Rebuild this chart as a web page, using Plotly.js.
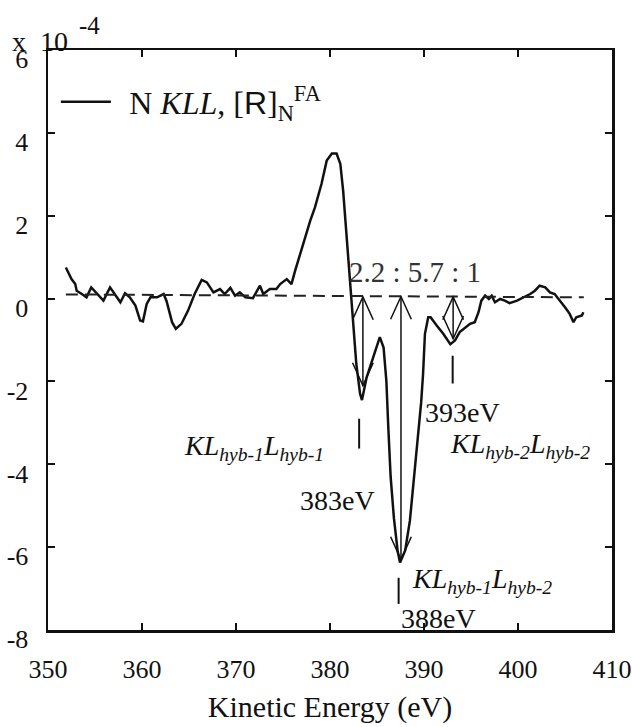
<!DOCTYPE html>
<html><head><meta charset="utf-8">
<script src="https://cdn.plot.ly/plotly-3.0.1.min.js"></script>
<style>html,body{margin:0;padding:0;background:#fff}</style>
</head><body>
<div id="chart" style="width:632px;height:727px"></div>
<script>
// Kinetic energy (eV) and N KLL signal (x10^-4)
const energy = [351.9,352.5,352.9,353.05,353.6,354.1,354.6,355.2,355.9,356.6,357.3,357.7,358.2,358.7,359.3,359.8,360.1,360.5,360.9,361.6,362.3,362.6,363.2,363.6,364.2,364.9,365.6,366.35,366.9,367.6,368.3,368.8,369.4,369.9,370.4,371.0,371.8,372.55,372.9,373.6,374.3,374.7,375.4,375.9,376.3,376.8,377.3,377.9,378.4,379.1,379.65,380.2,380.7,381.1,381.4,381.7,381.95,382.2,382.5,382.8,383.2,383.4,383.9,384.6,385.3,385.7,386.0,386.2,386.45,386.8,387.2,387.45,388.0,388.5,388.9,389.4,389.7,389.9,390.1,390.45,390.7,391.35,392.05,392.8,393.1,393.3,393.8,394.4,394.9,395.4,395.8,396.1,396.5,396.9,397.2,397.55,398.1,398.6,399.1,399.9,400.6,401.3,401.8,402.3,402.9,403.4,403.9,404.5,405.0,405.5,405.9,406.2,406.8,406.95];
const signal = [0.75,0.47,0.35,0.19,0.11,0.03,0.27,0.11,-0.05,0.27,0.03,-0.09,0.13,0.03,-0.17,-0.53,-0.55,-0.13,0.03,0.03,0.11,-0.05,-0.57,-0.73,-0.61,-0.29,0.11,0.45,0.39,0.15,0.23,0.11,0.26,0.07,0.15,0.03,0.01,0.31,0.11,0.23,0.23,0.35,0.47,0.35,0.68,1.05,1.48,1.88,2.2,2.77,3.33,3.5,3.5,3.25,2.6,1.72,0.92,0.03,-0.7,-1.58,-2.3,-2.45,-1.9,-1.42,-0.93,-1.18,-2.0,-3.1,-4.3,-5.3,-6.1,-6.37,-6.08,-5.36,-4.4,-3.19,-2.5,-1.82,-0.85,-0.45,-0.45,-0.65,-0.85,-1.1,-1.05,-1.01,-0.81,-0.69,-0.61,-0.57,-0.33,-0.05,0.07,-0.01,0.07,-0.09,-0.01,-0.05,-0.11,-0.05,0.03,0.11,0.19,0.31,0.27,0.15,0.11,-0.05,-0.21,-0.37,-0.57,-0.45,-0.41,-0.33];
const baselineX = [351.9, 407.0];
const baselineY = [0.1, 0.03];
// double arrows from baseline to the three minima
const peakEnergy = [383.5, 387.55, 393.1];
const arrowTop = [0.04, 0.05, 0.04];
const peakDepth = [-2.1, -6.3, -0.97];
// short marker bars below each minimum
const markerEnergy = [383.1, 387.3, 393.05];
const markerTop = [-2.9, -6.74, -1.38];
const markerBottom = [-3.62, -7.37, -2.05];
const xTicks = [350,360,370,380,390,400,410];
const xTickText = ['350','360','370','380','390','400','410'];
const yTicks = [-8,-6,-4,-2,0,2,4,6];
const yTickText = ['-8','-6','-4','-2','0','2','4','6'];
const ratioText = '2.2 : 5.7 : 1';
const seriesName = "\u00a0\u2006N <i>KLL</i>, [<span style=\"font-family:'Liberation Sans'\">R</span>]<sub>N</sub><sup>FA</sup>";

const SERIF = "'Liberation Serif', 'Times New Roman', serif";
const headW = 1.1, headH = 0.55;

const shapes = [];
for (let i = 0; i < peakEnergy.length; i++) {
  const x = peakEnergy[i], t = arrowTop[i], b = peakDepth[i];
  shapes.push({type:'line', xref:'x', yref:'y', x0:x, x1:x, y0:t, y1:b, line:{color:'#111', width:1.5}});
  shapes.push({type:'path', xref:'x', yref:'y', path:`M ${x-headW},${t-headH} L ${x},${t} L ${x+headW},${t-headH}`, line:{color:'#111', width:1.5}});
  shapes.push({type:'path', xref:'x', yref:'y', path:`M ${x-headW},${b+headH} L ${x},${b} L ${x+headW},${b+headH}`, line:{color:'#111', width:1.5}});
}
for (let i = 0; i < markerEnergy.length; i++) {
  shapes.push({type:'line', xref:'x', yref:'y', x0:markerEnergy[i], x1:markerEnergy[i], y0:markerTop[i], y1:markerBottom[i], line:{color:'#111', width:2}});
}

const annFont = {family: SERIF, size: 28, color: '#111'};
const annotations = [
  {x: 389.0, y: 0.63, xref:'x', yref:'y', text: ratioText, showarrow:false, font:{family:SERIF, size:29, color:'#333'}, xanchor:'center', yanchor:'middle'},
  {x: 364.3, y: -3.6, xref:'x', yref:'y', text: '<i>KL<sub>hyb-1</sub>L<sub>hyb-1</sub></i>', showarrow:false, font:annFont, xanchor:'left', yanchor:'middle'},
  {x: 380.85, y: -4.88, xref:'x', yref:'y', text: '383eV', showarrow:false, font:annFont, xanchor:'center', yanchor:'middle'},
  {x: 388.5, y: -6.8, xref:'x', yref:'y', text: '<i>KL<sub>hyb-1</sub>L<sub>hyb-2</sub></i>', showarrow:false, font:annFont, xanchor:'left', yanchor:'middle'},
  {x: 387.3, y: -7.73, xref:'x', yref:'y', text: '388eV', showarrow:false, font:annFont, xanchor:'left', yanchor:'middle'},
  {x: 389.9, y: -2.75, xref:'x', yref:'y', text: '393eV', showarrow:false, font:annFont, xanchor:'left', yanchor:'middle'},
  {x: 392.5, y: -3.55, xref:'x', yref:'y', text: '<i>KL<sub>hyb-2</sub>L<sub>hyb-2</sub></i>', showarrow:false, font:annFont, xanchor:'left', yanchor:'middle'},
  {x: -0.068, y: 1.0155, xref:'paper', yref:'paper', text: 'x&nbsp;&nbsp;10', showarrow:false, font:{family:SERIF, size:28, color:'#111'}, xanchor:'left', yanchor:'middle'},
  {x: 0.051, y: 1.042, xref:'paper', yref:'paper', text: '-4', showarrow:false, font:{family:SERIF, size:25, color:'#111'}, xanchor:'left', yanchor:'middle'}
];

const traces = [
  {x: energy, y: signal, type:'scatter', mode:'lines', name: seriesName, line:{color:'#111', width:2.5}, showlegend:true},
  {x: baselineX, y: baselineY, type:'scatter', mode:'lines', name:'baseline', line:{color:'#222', width:2, dash:'12px,7px'}, showlegend:false}
];

const axisCommon = {
  showgrid:false, zeroline:false, showline:true, linecolor:'#111', linewidth:2.5, mirror:'ticks',
  ticks:'inside', ticklen:7, tickwidth:2, tickcolor:'#111', tickmode:'array',
  tickfont:{family:SERIF, size:26, color:'#111'}, ticklabeloverflow:'allow'
};

const layout = {
  width:632, height:727,
  margin:{l:48, r:20, t:50, b:97},
  paper_bgcolor:'#fff', plot_bgcolor:'#fff',
  font:{family:SERIF, color:'#111'},
  xaxis: Object.assign({}, axisCommon, {range:[350,410], tickvals:xTicks, ticktext:xTickText, ticklabelstandoff:14,
    title:{text:'Kinetic Energy (eV)', font:{family:SERIF, size:30, color:'#111'}, standoff:14}}),
  yaxis: Object.assign({}, axisCommon, {range:[-8,6], tickvals:yTicks, ticktext:yTickText, ticklabelstandoff:12, ticklabelposition:'outside bottom', ticklabelshift:-10}),
  showlegend:true,
  legend:{x:0.014, y:0.958, xanchor:'left', yanchor:'top', bgcolor:'rgba(0,0,0,0)', borderwidth:0,
    font:{family:SERIF, size:32, color:'#111'}, itemwidth:50},
  shapes: shapes,
  annotations: annotations
};

Plotly.newPlot('chart', traces, layout, {displayModeBar:false, staticPlot:true});
</script>
</body></html>
